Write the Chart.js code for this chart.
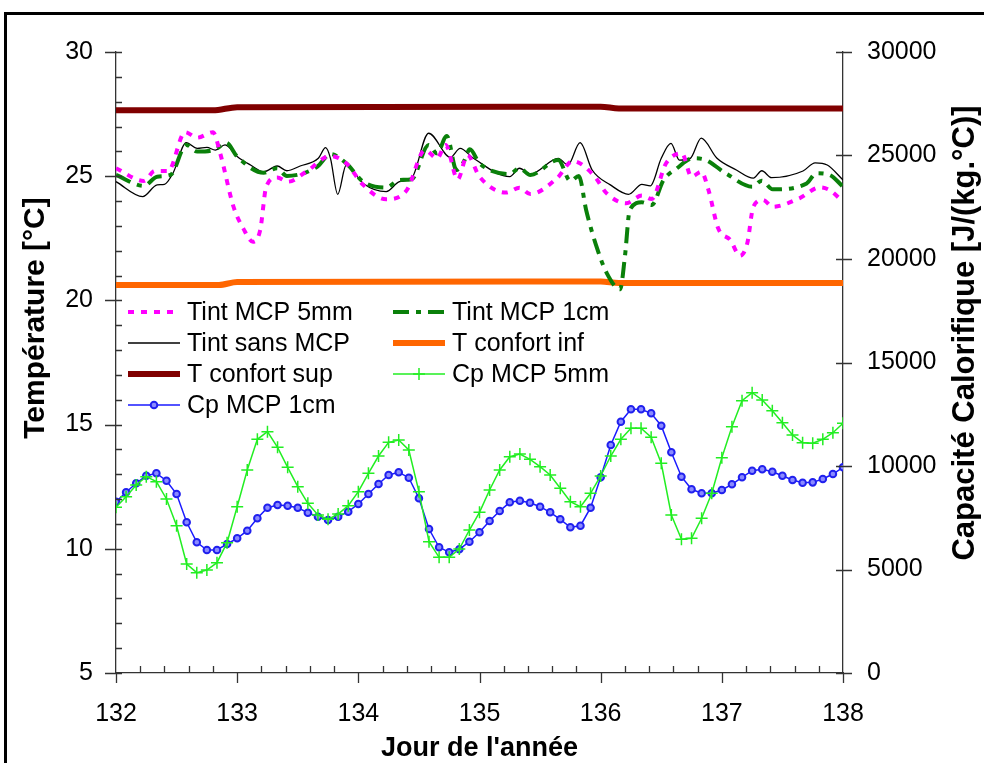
<!DOCTYPE html>
<html>
<head>
<meta charset="utf-8">
<script src="https://cdn.jsdelivr.net/npm/chart.js@4/dist/chart.umd.min.js"></script>
<style>
  html, body { margin: 0; padding: 0; background: #fff; overflow: hidden; }
  #wrap { position: relative; width: 984px; height: 763px; }
  #frame { position: absolute; left: 4px; top: 12px; width: 1000px; height: 800px;
           border: 3px solid #000; pointer-events: none; }
</style>
</head>
<body>
<div id="wrap">
  <canvas id="chart" width="984" height="763"></canvas>
  <div id="frame"></div>
</div>
<script>
// Axis ticks
const dayTicks = [132, 133, 134, 135, 136, 137, 138];
const tempTicks = [5, 10, 15, 20, 25, 30];
const cpTicks = [0, 5000, 10000, 15000, 20000, 25000, 30000];

// Tint sans MCP
const tSansDays = [132.00,132.22,132.34,132.40,132.47,132.58,132.67,132.75,132.82,132.90,133.00,133.11,133.22,133.33,133.41,133.52,133.67,133.73,133.77,133.83,133.90,134.04,134.23,134.34,134.44,134.58,134.76,134.84,134.95,135.25,135.33,135.42,135.65,135.73,135.83,135.93,136.08,136.23,136.34,136.41,136.50,136.58,136.65,136.74,136.83,136.96,137.12,137.26,137.33,137.41,137.67,137.77,137.87,138.00];
const tSansVals = [24.78,24.18,24.65,24.67,25.12,26.35,26.12,26.16,26.05,26.26,25.79,25.45,25.18,25.41,25.22,25.41,25.72,26.15,25.72,24.27,25.45,24.71,24.38,24.78,24.92,26.73,25.76,26.12,25.72,24.98,25.32,25.09,25.72,25.45,26.35,25.25,24.65,24.27,24.67,24.61,25.72,26.32,25.65,25.72,26.53,25.72,25.25,24.92,25.22,24.94,25.21,25.54,25.45,24.85];

// Tint MCP 5mm
const t5mmDays = [132.00,132.23,132.32,132.43,132.57,132.67,132.80,132.86,132.97,133.05,133.13,133.19,133.24,133.33,133.42,133.57,133.77,133.90,134.04,134.23,134.40,134.55,134.65,134.72,134.82,134.90,135.00,135.22,135.33,135.42,135.64,135.77,135.94,136.05,136.21,136.34,136.42,136.54,136.67,136.75,136.83,136.89,136.97,137.07,137.15,137.21,137.26,137.34,137.42,137.64,137.81,137.89,138.00];
const t5mmVals = [25.32,24.81,25.21,25.21,26.77,26.55,26.77,25.92,23.77,22.90,22.36,22.83,24.58,24.95,24.78,25.18,25.81,25.52,24.65,24.07,24.44,26.05,25.72,26.26,24.87,25.85,24.98,24.34,24.54,24.28,24.92,25.61,25.05,24.31,23.91,24.22,24.08,25.52,25.92,24.98,25.18,24.44,22.90,22.43,21.80,22.30,23.77,24.04,23.77,24.11,24.55,24.44,23.97];

// Tint MCP 1cm
const t1cmDays = [132.00,132.23,132.34,132.45,132.58,132.67,132.82,132.91,133.00,133.22,133.33,133.41,133.66,133.77,133.90,134.04,134.23,134.34,134.44,134.58,134.65,134.73,134.81,134.87,134.92,135.00,135.25,135.33,135.42,135.65,135.75,135.82,135.88,135.97,136.05,136.16,136.20,136.24,136.34,136.42,136.52,136.63,136.76,136.85,137.04,137.25,137.33,137.42,137.70,137.78,137.89,138.00];
const t1cmVals = [25.05,24.61,24.98,25.05,26.26,25.99,26.08,26.35,25.79,25.14,25.32,25.01,25.38,25.89,25.52,24.78,24.54,24.85,24.88,26.26,25.92,26.62,25.25,25.58,26.08,25.52,25.09,25.32,25.05,25.65,24.81,25.01,23.64,22.10,21.10,20.45,21.76,23.64,23.95,23.84,24.85,25.32,25.72,25.68,25.09,24.58,24.82,24.47,24.71,25.12,25.05,24.58];

// comfort limits
const confSupDays = [132.00, 132.80, 133.00, 136.00, 136.15, 138.00];
const confSupVals = [27.65, 27.65, 27.78, 27.80, 27.73, 27.73];
const confInfDays = [132.00, 132.85, 133.00, 136.00, 136.15, 138.00];
const confInfVals = [20.62, 20.62, 20.74, 20.76, 20.70, 20.70];

// Cp, one value every 2 hours from day 132
const cpStart = 132;
const cpStep = 1 / 12;
const cp5mmVals = [8005,8517,9082,9483,9242,8406,7116,5266,4846,4976,5329,6295,8034,9807,11290,11657,10904,9937,9000,8198,7633,7425,7681,8082,8759,9647,10483,11145,11256,10773,8759,6343,5589,5589,5990,6908,7763,8841,9807,10450,10580,10324,9967,9565,8923,8275,8034,8681,9517,10483,11290,11821,11821,11387,10131,7633,6459,6507,7473,8681,10401,11899,13155,13541,13189,12672,12092,11498,11126,11097,11290,11609,12063];
const cp1cmVals = [8275,8730,9164,9532,9647,9290,8648,7280,6314,5942,5942,6232,6507,6875,7473,7986,8116,8082,7986,7744,7551,7391,7551,7793,8164,8648,9131,9565,9696,9435,8440,6957,6073,5831,5976,6343,6797,7343,7826,8246,8324,8227,8034,7763,7425,7039,7116,7986,9454,11015,12141,12740,12740,12546,11947,10662,9483,8875,8681,8681,8841,9116,9454,9773,9841,9725,9532,9324,9194,9210,9372,9613,9937];

function pairs(days, vals) {
    return vals.map((v, i) => ({ x: days[i], y: v }));
}
function cpPairs(vals) {
    return vals.map((v, i) => ({ x: cpStart + i * cpStep, y: v }));
}

const FONT = 'Liberation Sans, Arial, Helvetica, sans-serif';
const tickFont = { family: FONT, size: 25, lineHeight: 1.2 };

const datasets = [
    { label: 'Tint MCP 5mm', data: pairs(t5mmDays, t5mmVals), yAxisID: 'y',
      borderColor: '#ff00ff', borderWidth: 4, borderDash: [6, 7], pointRadius: 0, cubicInterpolationMode: 'monotone' },
    { label: 'Tint MCP 1cm', data: pairs(t1cmDays, t1cmVals), yAxisID: 'y',
      borderColor: '#0a800a', borderWidth: 4, borderDash: [16, 7, 5, 7], pointRadius: 0, cubicInterpolationMode: 'monotone' },
    { label: 'Tint sans MCP', data: pairs(tSansDays, tSansVals), yAxisID: 'y',
      borderColor: '#000000', borderWidth: 1.3, pointRadius: 0, cubicInterpolationMode: 'monotone' },
    { label: 'T confort inf', data: pairs(confInfDays, confInfVals), yAxisID: 'y',
      borderColor: '#ff6600', borderWidth: 6, pointRadius: 0, cubicInterpolationMode: 'monotone' },
    { label: 'T confort sup', data: pairs(confSupDays, confSupVals), yAxisID: 'y',
      borderColor: '#800000', borderWidth: 6, pointRadius: 0, cubicInterpolationMode: 'monotone' },
    { label: 'Cp MCP 5mm', data: cpPairs(cp5mmVals), yAxisID: 'y2',
      borderColor: '#22ee22', borderWidth: 1.5, pointStyle: 'cross', pointRadius: 6,
      pointBorderWidth: 1.5, pointBorderColor: '#22ee22', tension: 0 },
    { label: 'Cp MCP 1cm', data: cpPairs(cp1cmVals), yAxisID: 'y2',
      borderColor: '#1a1aff', borderWidth: 1.5, pointStyle: 'circle', pointRadius: 3.3,
      pointBorderWidth: 2, pointBorderColor: '#2020ee', pointBackgroundColor: '#8a8aff', tension: 0 }
];

// legend layout
const legendCols = [128, 393];
const legendRowsY = [312, 343, 374, 405];
const legendOrder = [[0, 1], [2, 3], [4, 5], [6]];

function drawMarker(ctx, ds, x, y) {
    ctx.save();
    ctx.setLineDash([]);
    ctx.lineWidth = ds.pointBorderWidth;
    ctx.strokeStyle = ds.pointBorderColor;
    if (ds.pointStyle === 'cross') {
        const r = ds.pointRadius;
        ctx.beginPath();
        ctx.moveTo(x - r, y); ctx.lineTo(x + r, y);
        ctx.moveTo(x, y - r); ctx.lineTo(x, y + r);
        ctx.stroke();
    } else {
        ctx.fillStyle = ds.pointBackgroundColor;
        ctx.beginPath();
        ctx.arc(x, y, ds.pointRadius, 0, Math.PI * 2);
        ctx.fill();
        ctx.stroke();
    }
    ctx.restore();
}

const decor = {
    id: 'decor',
    afterDraw(chart) {
        const ctx = chart.ctx;
        const xs = chart.scales.x, yl = chart.scales.y, yr = chart.scales.y2;
        const bottom = chart.chartArea.bottom;
        const left = chart.chartArea.left, right = chart.chartArea.right;
        ctx.save();
        ctx.strokeStyle = '#333';
        ctx.lineWidth = 1.3;
        ctx.beginPath();
        // x ticks: majors out, minors in
        for (let d = 0; d <= 30; d++) {
            const px = Math.round(xs.getPixelForValue(132 + d * 0.2)) + 0.5;
            if (d % 5 === 0) { ctx.moveTo(px, bottom); ctx.lineTo(px, bottom + 10); }
            else { ctx.moveTo(px, bottom); ctx.lineTo(px, bottom - 7); }
        }
        // left axis ticks
        for (let t = 5; t <= 30; t++) {
            const py = Math.round(yl.getPixelForValue(t)) + 0.5;
            if (t % 5 === 0) { ctx.moveTo(left - 11, py); ctx.lineTo(left + 6, py); }
            else { ctx.moveTo(left, py); ctx.lineTo(left + 6, py); }
        }
        // right axis ticks
        cpTicks.forEach(v => {
            const py = Math.round(yr.getPixelForValue(v)) + 0.5;
            ctx.moveTo(right - 7, py); ctx.lineTo(right + 9, py);
        });
        ctx.stroke();

        // axis titles
        ctx.fillStyle = '#000';
        ctx.font = 'bold 27px ' + FONT;
        ctx.textAlign = 'center';
        ctx.textBaseline = 'alphabetic';
        ctx.fillText("Jour de l'année", (left + right) / 2, 756);
        ctx.font = 'bold 30px ' + FONT;
        ctx.save();
        ctx.translate(44, 318);
        ctx.rotate(-Math.PI / 2);
        ctx.fillText('Température [°C]', 0, 0);
        ctx.restore();
        ctx.font = 'bold 31px ' + FONT;
        ctx.save();
        ctx.translate(974, 333);
        ctx.rotate(-Math.PI / 2);
        ctx.fillText('Capacité Calorifique [J/(kg.°C)]', 0, 0);
        ctx.restore();

        // legend
        ctx.font = '25px ' + FONT;
        ctx.textAlign = 'left';
        ctx.textBaseline = 'middle';
        legendOrder.forEach((row, r) => {
            row.forEach((idx, c) => {
                const ds = chart.data.datasets[idx];
                const x0 = legendCols[c], y = legendRowsY[r];
                ctx.save();
                ctx.strokeStyle = ds.borderColor;
                ctx.lineWidth = ds.borderWidth;
                ctx.setLineDash(ds.borderDash || []);
                ctx.beginPath();
                ctx.moveTo(x0, y); ctx.lineTo(x0 + 52, y);
                ctx.stroke();
                ctx.restore();
                if (ds.pointRadius > 0) drawMarker(ctx, ds, x0 + 26, y);
                ctx.fillStyle = '#000';
                ctx.fillText(ds.label, x0 + 59, y + 1);
            });
        });
        ctx.restore();
    }
};

const axisBorder = { display: true, color: '#333', width: 1.3 };
const noGrid = { display: false, drawTicks: false };
const plainNumber = v => String(v);

new Chart(document.getElementById('chart').getContext('2d'), {
    type: 'line',
    data: { datasets: datasets },
    options: {
        responsive: false,
        animation: false,
        layout: { padding: { top: 52, left: 0, right: 0, bottom: 0 } },
        plugins: { legend: { display: false }, tooltip: { enabled: false } },
        scales: {
            x: {
                type: 'linear', position: 'bottom', min: 132, max: 138,
                afterFit: s => { s.height = 90; },
                afterBuildTicks: s => { s.ticks = dayTicks.map(v => ({ value: v })); },
                grid: noGrid, border: axisBorder,
                ticks: { font: tickFont, color: '#000', padding: 26, maxRotation: 0, callback: plainNumber }
            },
            y: {
                type: 'linear', position: 'left', min: 5, max: 30,
                afterFit: s => { s.width = 116; },
                afterBuildTicks: s => { s.ticks = tempTicks.map(v => ({ value: v })); },
                grid: noGrid, border: axisBorder,
                ticks: { font: tickFont, color: '#000', padding: 23, callback: plainNumber }
            },
            y2: {
                type: 'linear', position: 'right', min: 0, max: 30000,
                afterFit: s => { s.width = 141; },
                afterBuildTicks: s => { s.ticks = cpTicks.map(v => ({ value: v })); },
                grid: noGrid, border: axisBorder,
                ticks: { font: tickFont, color: '#000', padding: 24, callback: plainNumber }
            }
        }
    },
    plugins: [decor]
});
</script>
</body>
</html>
